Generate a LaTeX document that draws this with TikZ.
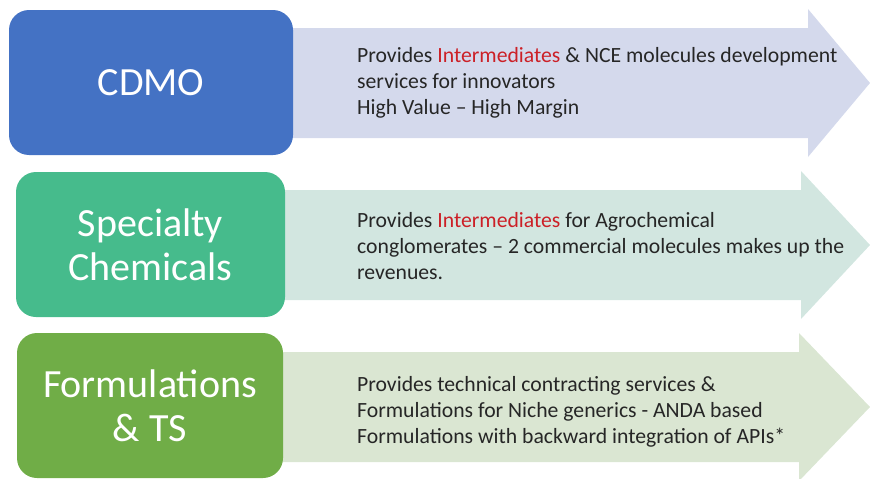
\documentclass[tikz,border=0pt]{standalone}
\usepackage{fontspec}
\setmainfont{Carlito}

\definecolor{cdmoblue}{RGB}{68,114,196}
\definecolor{specgreen}{RGB}{70,187,140}
\definecolor{formgreen}{RGB}{112,173,71}
\definecolor{cdmoarrow}{RGB}{212,217,236}
\definecolor{specarrow}{RGB}{210,230,224}
\definecolor{formarrow}{RGB}{218,230,210}
\definecolor{textgray}{RGB}{38,38,38}
\definecolor{interred}{RGB}{204,32,39}

\tikzset{
	segbox/.style={rounded corners=20pt, inner sep=0pt, minimum height=145pt,
		text=white, align=center, font=\fontsize{40}{44}\selectfont},
	desc/.style={anchor=west, inner sep=0pt, align=left, text=textgray,
		font=\fontsize{21.7}{26}\selectfont}
}

\begin{document}
\begin{tikzpicture}[x=1pt,y=-1pt]
\useasboundingbox (0,0) rectangle (870,479);

\foreach \c/\hx/\col in {83/808/cdmoarrow, 245/801/specarrow, 407/799/formarrow}
{
	\fill [\col] (250,\c-55) -- (\hx,\c-55) -- (\hx,\c-74) -- (870,\c)
		-- (\hx,\c+74) -- (\hx,\c+55) -- (250,\c+55) -- cycle;
}

\path (151,82.5) node[segbox, fill=cdmoblue, minimum width=284pt] (cdmo) {CDMO};
\path (150.5,244.5) node[segbox, fill=specgreen, minimum width=269pt] (spec) {Specialty\\Chemicals};
\path (150,405.5) node[segbox, fill=formgreen, minimum width=266pt] (form) {Formulations\\\& TS};

\path (357,82.5) node[desc] (cdmotext) {Provides \textcolor{interred}{Intermediates} \& NCE molecules development\\services for innovators\\High Value – High Margin};
\path (357,246) node[desc] (spectext) {Provides \textcolor{interred}{Intermediates} for Agrochemical\\conglomerates – 2 commercial molecules makes up the\\revenues.};
\path (357,412) node[desc] (formtext) {Provides technical contracting services \&\\Formulations for Niche generics - ANDA based\\Formulations with backward integration of APIs*};

\end{tikzpicture}
\end{document}
